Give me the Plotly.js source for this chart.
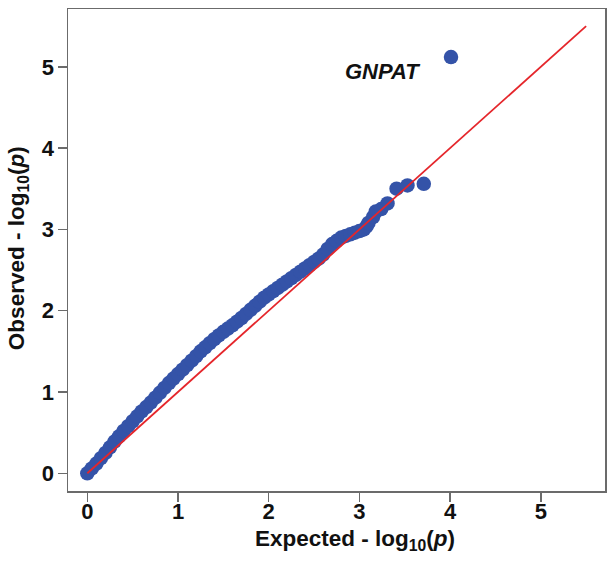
<!DOCTYPE html>
<html>
<head>
<meta charset="utf-8">
<script src="https://cdn.plot.ly/plotly-3.0.1.min.js"></script>
<style>html,body{margin:0;padding:0;background:#fff;}#chart{width:614px;height:562px;}</style>
</head>
<body>
<div id="chart"></div>
<script>
// Expected -log10(p) values read along the dense band
var expected = [0.00,0.05,0.10,0.15,0.20,0.25,0.30,0.35,0.40,0.45,0.50,0.55,0.60,0.65,0.70,0.75,0.80,0.85,0.90,0.95,
  1.00,1.05,1.10,1.15,1.20,1.25,1.30,1.35,1.40,1.45,1.50,1.55,1.60,1.65,1.70,1.75,1.80,1.85,1.90,1.95,
  2.00,2.05,2.10,2.15,2.20,2.25,2.30,2.35,2.40,2.45,2.50,2.55,2.60,2.65,2.70,2.75,2.80,2.85,2.90,2.95,
  3.00,3.05,3.08,3.10,3.15,3.18,3.24,3.31,3.41,3.53,3.71,4.01];
// Observed -log10(p) values
var observed = [0.00,0.06,0.12,0.185,0.25,0.32,0.39,0.455,0.52,0.58,0.64,0.70,0.76,0.815,0.87,0.93,0.99,1.05,1.11,1.165,
  1.22,1.275,1.33,1.385,1.44,1.50,1.55,1.60,1.65,1.695,1.74,1.78,1.82,1.865,1.91,1.96,2.01,2.06,2.11,2.16,
  2.20,2.24,2.28,2.32,2.36,2.40,2.44,2.48,2.52,2.56,2.60,2.64,2.69,2.76,2.82,2.86,2.90,2.92,2.94,2.96,
  2.98,3.00,3.04,3.08,3.15,3.22,3.25,3.32,3.50,3.54,3.56,5.12];
// Reference line y = x
var refLine = [0, 5.5];
var tickVals = [0, 1, 2, 3, 4, 5];
var topGene = "GNPAT";
var topGeneX = 3.26, topGeneY = 4.94;
var xTitle = "<b>Expected - log<sub>10</sub>(<i>p</i>)</b>";
var yTitle = "<b>Observed - log<sub>10</sub>(<i>p</i>)</b>";

var font = "Liberation Sans, Arial, Helvetica, sans-serif";
var axisColor = "#6b6b6b";

var traces = [
  {
    x: expected, y: observed, type: "scatter", mode: "markers",
    marker: {color: "#3453a8", size: 14.5, line: {width: 0}},
    hoverinfo: "skip", showlegend: false
  },
  {
    x: refLine, y: refLine, type: "scatter", mode: "lines",
    line: {color: "#e5262b", width: 1.8},
    hoverinfo: "skip", showlegend: false
  }
];

function axis(range, standoff) {
  return {
    range: range, autorange: false,
    tickvals: tickVals, ticktext: tickVals.map(String),
    ticks: "outside", ticklen: 9, tickwidth: 1.5, tickcolor: axisColor,
    ticklabelstandoff: standoff,
    showline: true, linecolor: axisColor, linewidth: 1.5, mirror: true,
    showgrid: false, zeroline: false,
    tickfont: {family: font, size: 22, weight: 700, color: "#111"},
    automargin: false
  };
}

var titleFont = {family: font, size: 22.5, color: "#111"};

var layout = {
  width: 614, height: 562,
  margin: {l: 68, r: 9, t: 9, b: 71},
  paper_bgcolor: "#fff", plot_bgcolor: "#fff",
  xaxis: axis([-0.213, 5.708], -9),
  yaxis: axis([-0.218, 5.711], -1),
  annotations: [
    {
      x: topGeneX, y: topGeneY, xref: "x", yref: "y",
      text: "<b><i>" + topGene + "</i></b>", showarrow: false,
      font: {family: font, size: 22, color: "#111"},
      xanchor: "center", yanchor: "middle"
    },
    {
      x: 0.534, y: -0.1017, xref: "paper", yref: "paper",
      text: xTitle, showarrow: false, font: titleFont,
      xanchor: "center", yanchor: "middle"
    },
    {
      x: -0.093, y: 0.504, xref: "paper", yref: "paper",
      text: yTitle, showarrow: false, font: titleFont, textangle: -90,
      xanchor: "center", yanchor: "middle"
    }
  ]
};

Plotly.newPlot("chart", traces, layout, {staticPlot: true, displayModeBar: false});
</script>
</body>
</html>
